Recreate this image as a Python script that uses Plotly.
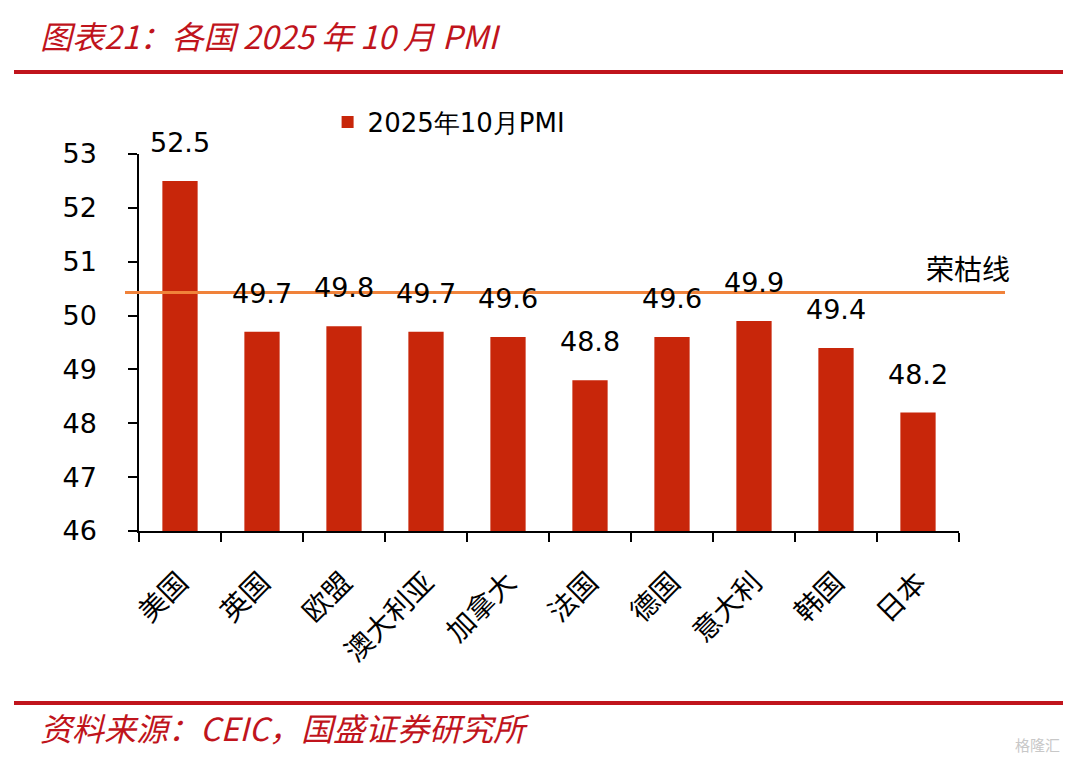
import plotly.graph_objects as go

categories = ["美国", "英国", "欧盟", "澳大利亚", "加拿大", "法国", "德国", "意大利", "韩国", "日本"]
pmi_values = [52.5, 49.7, 49.8, 49.7, 49.6, 48.8, 49.6, 49.9, 49.4, 48.2]
series_name = "2025年10月PMI"
line_level = 50.43   # 荣枯线 as drawn in the reference
y_ticks = [46, 47, 48, 49, 50, 51, 52, 53]

RED = "#C0141C"
BAR = "#C8260A"
ORANGE = "#F0823A"
NUM_FONT = "DejaVu Sans"
CJK_FONT = "Noto Sans CJK SC"

# plot area in page pixels (reference): x 139..959, y 154..531
PL, PR, PT, PB = 139, 959, 154, 531
PW, PH = PR - PL, PB - PT
def px(xp):
    return (xp - PL) / PW
def py(yp):
    return (PB - yp) / PH

fig = go.Figure()
fig.add_trace(go.Bar(
    x=categories, y=pmi_values, name=series_name,
    marker=dict(color=BAR, line=dict(width=0)),
    width=0.43, showlegend=True,
))

# data labels
for c, v in zip(categories, pmi_values):
    fig.add_annotation(x=c, y=v, text=f"{v:.1f}", showarrow=False,
                       xref="x", yref="y", yanchor="bottom", yshift=21,
                       font=dict(family=NUM_FONT, size=27, color="#000000"))

# boom-bust line
fig.add_shape(type="line", xref="paper", yref="y", x0=px(125), x1=px(1005),
              y0=line_level, y1=line_level, line=dict(color=ORANGE, width=3))
fig.add_annotation(xref="paper", yref="paper", x=px(1012), y=py(268),
                   xanchor="right", yanchor="middle", text="荣枯线", showarrow=False,
                   font=dict(family=CJK_FONT, size=28, color="#000000"))

# title, rules, source
fig.add_annotation(xref="paper", yref="paper", x=px(38), y=py(35),
                   xanchor="left", yanchor="middle", showarrow=False,
                   text="<i>图表21：各国 2025 年 10 月 PMI</i>",
                   font=dict(family=CJK_FONT, size=32, color=RED))
fig.add_shape(type="line", xref="paper", yref="paper", x0=px(14), x1=px(1063),
              y0=py(72), y1=py(72), line=dict(color=RED, width=4))
fig.add_shape(type="line", xref="paper", yref="paper", x0=px(14), x1=px(1063),
              y0=py(703), y1=py(703), line=dict(color=RED, width=4))
fig.add_annotation(xref="paper", yref="paper", x=px(38), y=py(727),
                   xanchor="left", yanchor="middle", showarrow=False,
                   text="<i>资料来源：CEIC，国盛证券研究所</i>",
                   font=dict(family=CJK_FONT, size=32, color=RED))
fig.add_annotation(xref="paper", yref="paper", x=px(1062), y=py(745),
                   xanchor="right", yanchor="middle", showarrow=False,
                   text="格隆汇", font=dict(family=CJK_FONT, size=15, color="#C8C8C8"))

# page body has an 8px margin: the figure is offset by 8px
OFF = 8
W, H = 1064, 748
fig.update_layout(
    width=W, height=H,
    margin=dict(l=PL - OFF, r=W - (PR - OFF), t=PT - OFF, b=H - (PB - OFF)),
    paper_bgcolor="white", plot_bgcolor="white",
    bargap=0.57,
    showlegend=True,
    legend=dict(x=0.23, y=py(122), xanchor="left", yanchor="middle",
                orientation="h", bgcolor="rgba(0,0,0,0)",
                font=dict(family=NUM_FONT, size=26, color="#000000")),
    xaxis=dict(type="category", showline=True, linecolor="#000000", linewidth=1.5,
               ticks="outside", tickson="boundaries", ticklen=9, tickcolor="#000000",
               tickwidth=1.5, tickangle=-45, showgrid=False, ticklabelstandoff=22,
               tickfont=dict(family=CJK_FONT, size=28, color="#000000")),
    yaxis=dict(range=[46, 53], tickvals=y_ticks, showline=True, linecolor="#000000",
               linewidth=1.5, ticks="outside", ticklen=9, tickcolor="#000000",
               tickwidth=1.5, showgrid=False, zeroline=False, ticklabelstandoff=26,
               tickfont=dict(family=NUM_FONT, size=27, color="#000000")),
)

fig.write_html("out.html")
